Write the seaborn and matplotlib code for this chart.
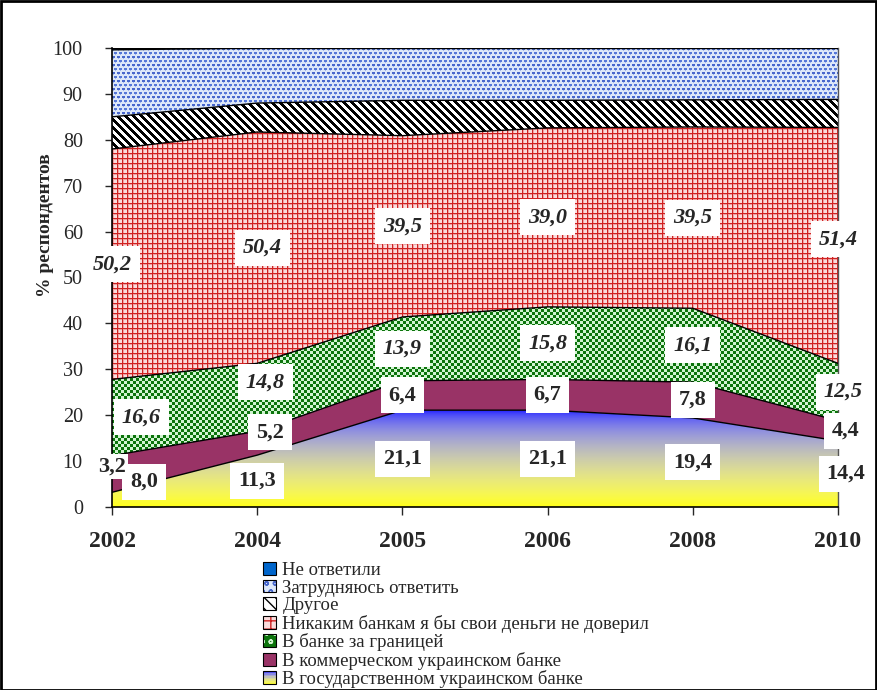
import numpy as np
import pandas as pd
import matplotlib
matplotlib.use("Agg")
import matplotlib.pyplot as plt
from matplotlib.colors import to_rgb
from matplotlib.patches import Polygon, Patch, Rectangle
from matplotlib.legend_handler import HandlerBase
import seaborn as sns

# ── data ──────────────────────────────────────────────────────────────────────
years = ["2002", "2004", "2005", "2006", "2008", "2010"]
state_bank = [3.2, 11.3, 21.1, 21.1, 19.4, 14.4]
commercial_bank = [8.0, 5.2, 6.4, 6.7, 7.8, 4.4]
foreign_bank = [16.6, 14.8, 13.9, 15.8, 16.1, 12.5]
no_bank = [50.2, 50.4, 39.5, 39.0, 39.5, 51.4]
other = [7.0, 6.3, 7.7, 6.0, 5.9, 6.1]
hard_to_say = [14.6, 12.0, 11.4, 11.4, 11.3, 11.2]
no_answer = [0.4, 0.0, 0.0, 0.0, 0.0, 0.0]

series_names = [
    "В государственном украинском банке",
    "В коммерческом украинском банке",
    "В банке за границей",
    "Никаким банкам я бы свои деньги не доверил",
    "Другое",
    "Затрудняюсь ответить",
    "Не ответили",
]
series_values = [state_bank, commercial_bank, foreign_bank, no_bank,
                 other, hard_to_say, no_answer]

# label nudges in pixels (series index, year index) -> (dx, dy)
LABEL_NUDGE = {
    (0, 0): (0, 33), (1, 0): (32, -8), (2, 0): (29, 0),
    (1, 1): (13, 11), (2, 1): (8, 15), (3, 1): (5, 0),
    (0, 5): (8, 0), (1, 5): (8, 0), (2, 5): (5, 0), (3, 5): (0, 6),
}

# ── figure geometry ───────────────────────────────────────────────────────────
W, H = 878, 690
AX_L, AX_R, AX_T, AX_B = 112, 838, 48, 507
AX_W, AX_H = AX_R - AX_L, AX_B - AX_T

sns.set_style("white")
plt.rcParams["font.family"] = ["Liberation Serif", "DejaVu Serif"]


def c(h):
    return np.array(to_rgb(h))


def texture(tile):
    tile = np.asarray(tile, float)
    ny = AX_H // tile.shape[0] + 1
    nx = AX_W // tile.shape[1] + 1
    return np.tile(tile, (ny, nx, 1))[:AX_H, :AX_W]


def dots_tile():
    t = np.tile(c("#DCE7F9"), (8, 5, 1))
    t[0:2, 0:3] = c("#4767CC")
    t[4:6, 2:5] = c("#5577D8")
    t[2, 1] = c("#9DB3EA")
    t[6, 3] = c("#9DB3EA")
    return t


def stripes_tile():
    r, k = np.mgrid[0:8, 0:8]
    t = np.ones((8, 8, 3))
    t[(k - r) % 8 < 4] = 0.0
    return t


def grid_tile():
    t = np.tile(c("#FADCDC"), (5, 5, 1))
    t[1, :] = c("#EFA3A3")
    t[:, 1] = c("#EFA3A3")
    t[0, :] = c("#D02222")
    t[:, 0] = c("#D02222")
    return t


def checker_tile():
    r, k = np.mgrid[0:6, 0:6]
    t = np.tile(c("#0C740C"), (6, 6, 1))
    t[((r // 3) + (k // 3)) % 2 == 1] = c("#D2F4D2")
    return t


def to_lin(v):
    return np.where(v <= 0.04045, v / 12.92, ((v + 0.055) / 1.055) ** 2.4)


def to_srgb(v):
    return np.where(v <= 0.0031308, v * 12.92, 1.055 * v ** (1 / 2.4) - 0.055)


YELLOW, BLUE = c("#FFFF1A"), c("#1A1AFF")


def blend(t):
    t = t ** 1.3
    return to_srgb((1 - t) * to_lin(YELLOW) + t * to_lin(BLUE))


def gradient_image():
    yv = 100 * (1 - (np.arange(AX_H) + 0.5) / AX_H)
    t = np.clip(yv / max(state_bank), 0, 1)[:, None]
    return np.repeat(blend(t)[:, None, :], AX_W, axis=1)


fills = [gradient_image(), None, texture(checker_tile()), texture(grid_tile()),
         texture(stripes_tile()), texture(dots_tile()), None]
solid = [None, "#993366", None, None, None, None, "#0066CC"]

fig = plt.figure(figsize=(W / 100, H / 100), dpi=100)
ax = fig.add_axes([AX_L / W, 1 - AX_B / H, AX_W / W, AX_H / H])

x = np.arange(len(years))
base = np.zeros(len(years))
bounds = []
mids = []
for i, vals in enumerate(series_values):
    vals = np.asarray(vals, float)
    upper = base + vals
    verts = np.column_stack([np.r_[x, x[::-1]], np.r_[upper, base[::-1]]])
    poly = Polygon(verts, closed=True, edgecolor="none",
                   facecolor=solid[i] if solid[i] else "none", zorder=1)
    ax.add_patch(poly)
    if fills[i] is not None:
        im = ax.imshow(fills[i], extent=(0, len(years) - 1, 0, 100), aspect="auto",
                       interpolation="nearest", zorder=1)
        im.set_clip_path(poly)
    bounds.append(pd.DataFrame({"pos": x, "level": upper, "series": i}))
    mids.append(base + vals / 2)
    base = upper

sns.lineplot(data=pd.concat(bounds), x="pos", y="level", units="series",
             estimator=None, color="black", linewidth=1.0, ax=ax,
             legend=False, zorder=3)

# value labels for the four main series
for i in range(4):
    style = "italic" if i >= 2 else "normal"
    for j, v in enumerate(series_values[i]):
        dx, dy = LABEL_NUDGE.get((i, j), (0, 0))
        first = (i == 0 and j == 0)
        ax.annotate(f"{v:.1f}".replace(".", ","), (x[j], mids[i][j]),
                    xytext=(dx, dy), textcoords="offset pixels",
                    ha="center", va="center", fontsize=16, fontweight="bold",
                    fontstyle=style, zorder=6 if first else 5,
                    annotation_clip=False,
                    bbox=dict(boxstyle="square,pad=%s" % (0.1 if first else 0.36),
                              facecolor="white", edgecolor="none"))

ax.set_xlim(0, len(years) - 1)
ax.set_ylim(0, 100)
ax.set_xticks(x)
ax.set_xticklabels(years, fontsize=17, fontweight="bold")
ax.set_yticks(np.arange(0, 101, 10))
ax.tick_params(axis="x", direction="out", length=6, width=1, pad=11, bottom=True)
ax.tick_params(axis="y", direction="out", length=5, width=1, pad=16,
               labelsize=14.5, left=True)
ax.set_xlabel("")
ax.set_ylabel("% респондентов", fontsize=14, fontweight="bold")
ax.yaxis.set_label_coords(-0.08, 0.614)
for side in ["left", "bottom"]:
    ax.spines[side].set_color("black")
    ax.spines[side].set_linewidth(1.2)
ax.spines["top"].set_visible(False)
ax.spines["right"].set_color("#555555")
ax.spines["right"].set_linewidth(1.0)


# ── legend ────────────────────────────────────────────────────────────────────
class GradientHandler(HandlerBase):
    def create_artists(self, legend, orig_handle, xdescent, ydescent,
                       width, height, fontsize, trans):
        arts = []
        n = 8
        for k in range(n):
            col = blend(np.array([(k + 0.5) / n]))
            arts.append(Rectangle((-xdescent, -ydescent + k * height / n), width,
                                  height / n, facecolor=col, edgecolor="none",
                                  transform=trans))
        arts.append(Rectangle((-xdescent, -ydescent), width, height,
                              facecolor="none", edgecolor="black", lw=0.8,
                              transform=trans))
        return arts


def pat(bg, hatch=None, hcol="black"):
    layers = [Patch(facecolor=bg, edgecolor="none")]
    if hatch:
        layers.append(Patch(facecolor="none", edgecolor=hcol, hatch=hatch, lw=0))
    layers.append(Patch(facecolor="none", edgecolor="black", lw=0.8))
    return tuple(layers)


grad_handle = Patch(facecolor="yellow")
handles = [
    pat("#0066CC"),
    pat("#DCE7F9", "oo", "#4767CC"),
    pat("white", "\\\\\\"),
    pat("#FADCDC", "++", "#D02222"),
    pat("#0C740C", "oo", "#D2F4D2"),
    pat("#993366"),
    grad_handle,
]
labels = series_names[::-1]
fig.legend(handles, labels, loc="upper left",
           bbox_to_anchor=(263 / W, 1 - 562 / H), frameon=False,
           fontsize=13.5, handlelength=0.68, handleheight=0.68,
           handletextpad=0.35, labelspacing=0.03, borderpad=0, borderaxespad=0,
           handler_map={grad_handle: GradientHandler()})

fig.patches.append(Rectangle((0.001, 0), 0.997, 0.998, transform=fig.transFigure,
                             fill=False, edgecolor="black", linewidth=2))

fig.savefig("out.png", dpi=100)
